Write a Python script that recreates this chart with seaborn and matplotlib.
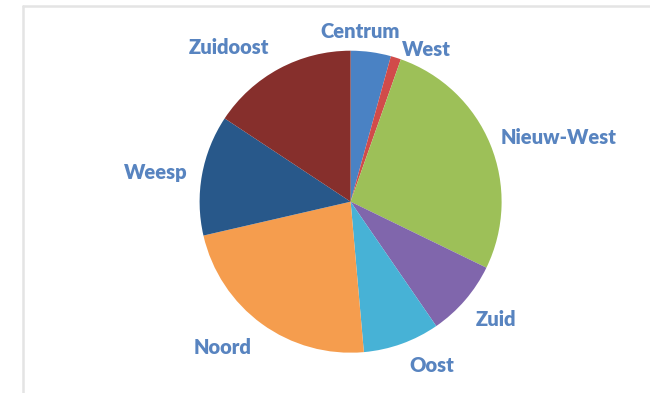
import matplotlib
matplotlib.use("Agg")
import matplotlib.pyplot as plt
from matplotlib.lines import Line2D
import seaborn as sns

# Share per district (percent), drawn clockwise from 12 o'clock
districts = ["Centrum", "West", "Nieuw-West", "Zuid", "Oost", "Noord", "Weesp", "Zuidoost"]
shares = [4.3, 1.1, 26.8, 8.2, 8.2, 22.8, 12.9, 15.7]

colors = ["#4a82c4", "#d14b4a", "#9dc058", "#8066ac", "#47b2d6",
          "#f59d4e", "#28588a", "#862f2c"]

# Label anchor points in pixel coordinates (x, y from top)
label_pos = {
    "Centrum": (360, 31),
    "West": (426, 49),
    "Nieuw-West": (559, 137),
    "Zuid": (496, 319),
    "Oost": (432, 366),
    "Noord": (223, 347),
    "Weesp": (156, 172),
    "Zuidoost": (229, 48),
}

W, H = 650, 393
sns.set_theme(style="white")
plt.rcParams["font.family"] = ["Lato", "DejaVu Sans"]

fig = plt.figure(figsize=(W / 100, H / 100), dpi=100)
fig.patch.set_facecolor("white")
ax = fig.add_axes([0, 0, 1, 1])

cx, cy, r = 350.6, H - 201.7, 151
ax.pie(shares, colors=colors, startangle=90, counterclock=False,
       center=(cx, cy), radius=r, frame=True,
       wedgeprops=dict(linewidth=0))
ax.set_xlim(0, W)
ax.set_ylim(0, H)
ax.set_aspect("equal")
ax.axis("off")

for name in districts:
    x, y = label_pos[name]
    ax.text(x, H - y, name, ha="center", va="center", fontsize=14.5,
            fontweight="heavy", color="#5884c0")

# light outer frame
fig.add_artist(Line2D([23 / W, 23 / W], [0, 1 - 6 / H], transform=fig.transFigure,
                      color="#e4e4e4", linewidth=1.8))
fig.add_artist(Line2D([23 / W, 1], [1 - 6 / H, 1 - 6 / H], transform=fig.transFigure,
                      color="#e4e4e4", linewidth=1.8))

fig.savefig("out.png", dpi=100, facecolor="white")
